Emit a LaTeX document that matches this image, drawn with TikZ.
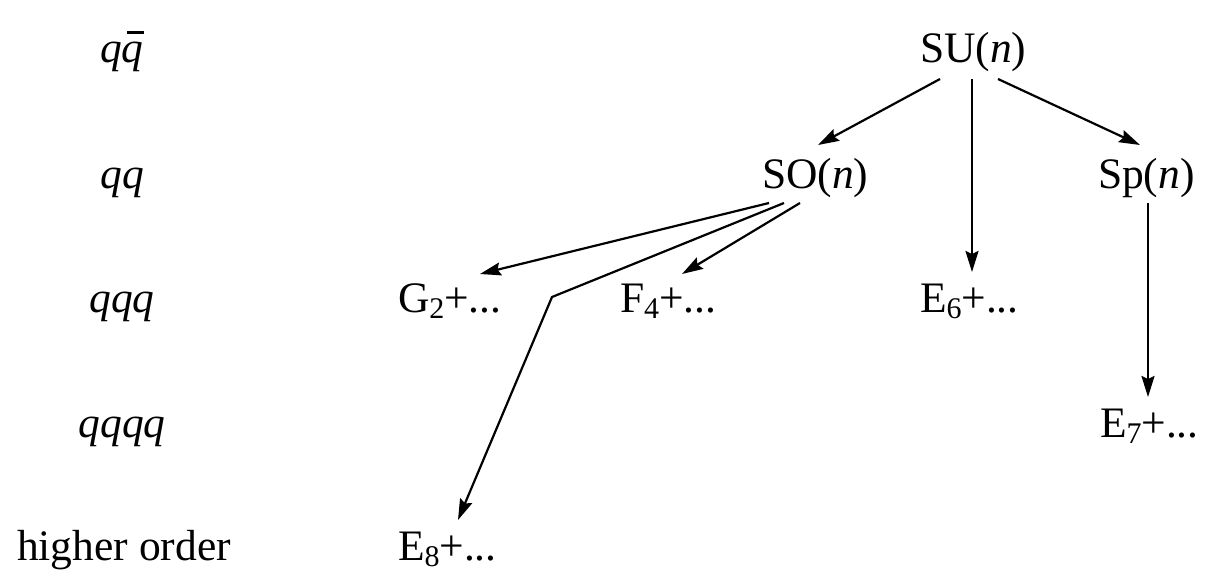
\documentclass[tikz,border=0pt]{standalone}
\usepackage{fontspec}
\setmainfont{Liberation Serif}
\usetikzlibrary{arrows.meta}
\newcommand{\lowidx}[1]{\raisebox{-0.14em}{\fontsize{30}{30}\selectfont #1}}
\begin{document}
\begin{tikzpicture}[x=1pt,y=-1pt,
  every node/.style={inner sep=0pt,outer sep=0pt,font=\fontsize{43.5}{52}\selectfont},
  grp/.style={anchor=base west},
  lbl/.style={anchor=base},
  arr/.style={line width=2.2pt,-{Stealth[length=21pt,width=13pt,inset=3pt]}}]
\useasboundingbox (0,0) rectangle (1222,572);
% row labels
\node[lbl] (l1) at (122,63) {\textit{q}\vbox{\offinterlineskip\hbox{\kern5pt\vrule width 17pt height 2.4pt depth 0pt}\kern9pt\hbox{\itshape q}}};
\node[lbl] (l2) at (122,188) {\textit{qq}};
\node[lbl] (l3) at (122,312) {\textit{qqq}};
\node[lbl] (l4) at (122,437) {\textit{qqqq}};
\node[lbl] (l5) at (124,560) {higher order};
% groups
\node[grp] (su) at (920,63) {SU(\textit{n})};
\node[grp] (so) at (762,188) {SO(\textit{n})};
\node[grp] (sp) at (1098,188) {Sp(\textit{n})};
\node[grp] (g2) at (398,312) {G\lowidx{2}+...};
\node[grp] (f4) at (620,312) {F\lowidx{4}+...};
\node[grp] (e6) at (920,312) {E\lowidx{6}+...};
\node[grp] (e7) at (1100,437) {E\lowidx{7}+...};
\node[grp] (e8) at (398,560) {E\lowidx{8}+...};
\coordinate (bend) at (552,297);
% connectors
\draw[arr] ([shift={(20,16)}]su.base west) -- ([shift={(56,-43)}]so.base west);
\draw[arr] ([shift={(52,16)}]su.base west) -- ([shift={(52,-40)}]e6.base west);
\draw[arr] ([shift={(78,16)}]su.base west) -- ([shift={(42,-43)}]sp.base west);
\draw[arr] ([shift={(50,15)}]sp.base west) -- ([shift={(48,-40)}]e7.base west);
\draw[arr] ([shift={(7,15)}]so.base west) -- ([shift={(82,-38)}]g2.base west);
\draw[arr] ([shift={(38,15)}]so.base west) -- ([shift={(62,-38)}]f4.base west);
\draw[arr] ([shift={(22,15)}]so.base west) -- (bend) -- ([shift={(60,-40)}]e8.base west);
\end{tikzpicture}
\end{document}
